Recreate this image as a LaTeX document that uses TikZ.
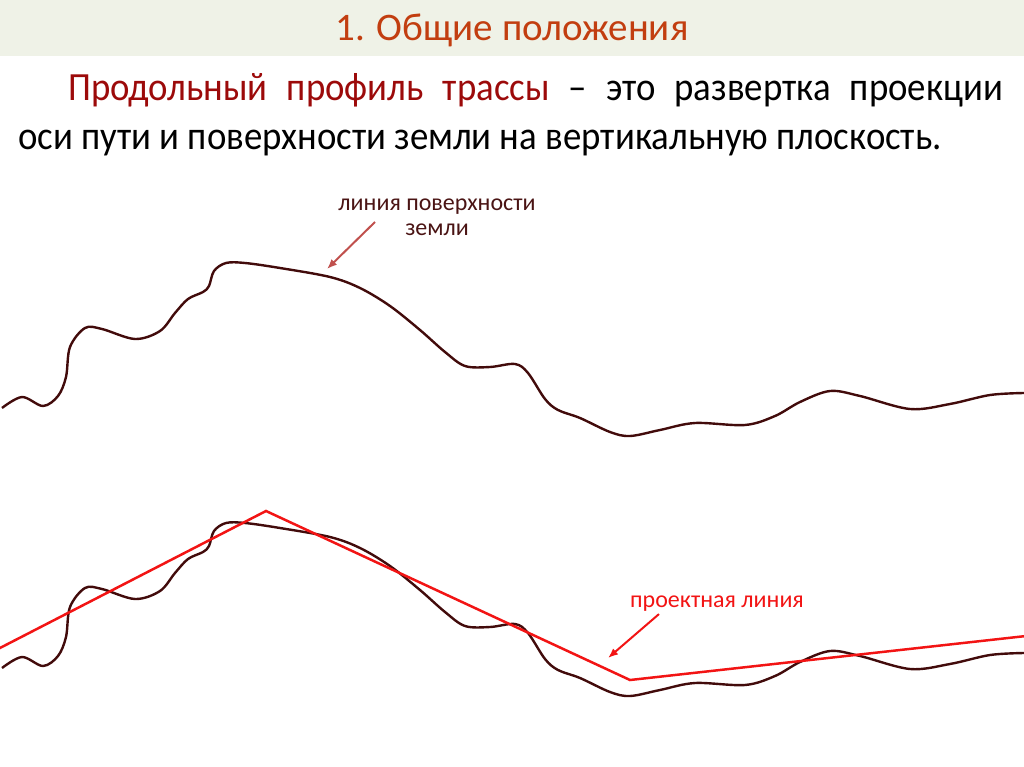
\documentclass[tikz,border=0pt]{standalone}
\usepackage{fontspec}
\setmainfont{Carlito}
\usetikzlibrary{arrows.meta}
\definecolor{titlebg}{HTML}{EFF2E7}
\definecolor{titlered}{HTML}{C23E10}
\definecolor{termred}{HTML}{9C0A0A}
\definecolor{groundbrown}{HTML}{420B0B}
\definecolor{labelbrown}{HTML}{4A1414}
\definecolor{calloutred}{HTML}{C0504D}
\definecolor{projred}{HTML}{F21414}
\begin{document}
\begin{tikzpicture}[x=1pt,y=-1pt,
	ground/.style={ draw=groundbrown, line width=2.4pt, line join=round },
	project/.style={ draw=projred, line width=2.5pt, line join=miter },
	callout/.style={ -{Latex[length=10pt,width=8pt]}, line width=2pt },
	bodytext/.style={ anchor=base west, inner sep=0pt, font=\fontsize{40}{46}\selectfont },
	labeltext/.style={ anchor=base, align=center, inner sep=0pt, font=\fontsize{24}{25}\selectfont },
	surface/.pic={
		\draw[ground] plot[smooth,tension=0.55] coordinates {
			(2,408) (22,397) (43,406) (58,396) (66,377) (70,347) (85,328) (102,329)
			(135,339) (160,331) (175,313) (188,299) (203,292) (209,286) (214,271)
			(226,263) (245,263) (280,268) (330,277) (360,288) (390,306) (420,330)
			(445,352) (465,366) (490,367) (515,364) (528,373) (545,399) (558,410)
			(580,418) (610,432) (630,436) (660,430) (695,423) (745,425) (775,416)
			(800,402) (830,391) (860,396) (910,409) (950,404) (990,395) (1024,393)};
	}
]
\useasboundingbox (0,0) rectangle (1024,767);

\fill[titlebg] (0,0) rectangle (1024,56);
\node at (512,30) (title) [text=titlered,font=\fontsize{39}{44}\selectfont] {1. Общие положения};

\node at (68,101) (line1) [bodytext]
	{\scalebox{0.92}[1]{\makebox[1016pt][s]{{\color{termred}Продольный профиль трассы} – это развертка проекции}}};
\node at (18,150) (line2) [bodytext]
	{\scalebox{0.92}[1]{оси пути и поверхности земли на вертикальную плоскость.}};

% earth surface, alone and under the design line
\pic at (0,0) {surface};
\pic at (0,260) {surface};
\draw[project] (-2,649) -- (266,511) -- (630,680) -- (1026,636);

\node at (437,236) (lsurf) [labeltext,text=labelbrown] {линия поверхности\\земли};
\coordinate (lsurftip) at (327,269);
\draw[callout,calloutred] (375,222) -- (lsurftip);

\node at (717,607) (lproj) [labeltext,text=projred] {проектная линия};
\coordinate (lprojtip) at (608,658);
\draw[callout,projred] (lproj.south west) ++(29,3) -- (lprojtip);

\end{tikzpicture}
\end{document}
